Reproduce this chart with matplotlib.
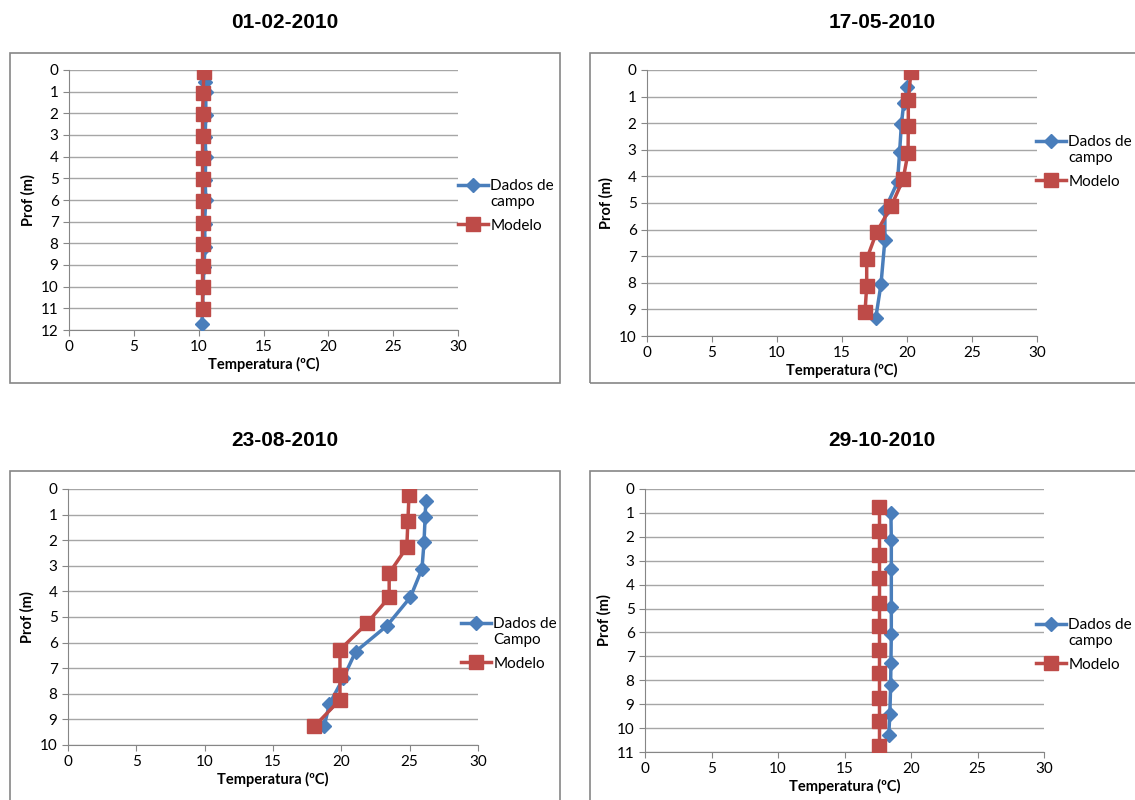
import numpy as np
import matplotlib.pyplot as plt
from matplotlib.patches import Rectangle

plt.rcParams["font.family"] = ["Lato", "DejaVu Sans"]

W, H = 1135, 800

titles = ["01-02-2010", "17-05-2010", "23-08-2010", "29-10-2010"]
campo_labels = ["Dados de\ncampo", "Dados de\ncampo", "Dados de\nCampo", "Dados de\ncampo"]
ymax = [12, 10, 10, 11]

# 01-02-2010
campo1_t = [10.45, 10.55, 10.55, 10.5, 10.55, 10.5, 10.55, 10.45, 10.5, 10.4, 10.35, 10.3, 10.25]
campo1_d = [0.57, 1.03, 2.1, 3.1, 4.0, 5.1, 6.0, 7.1, 8.15, 9.1, 10.05, 11.0, 11.71]
modelo1_t = [10.4, 10.35, 10.3, 10.3, 10.3, 10.3, 10.3, 10.3, 10.3, 10.3, 10.3, 10.3]
modelo1_d = [0.08, 1.06, 2.05, 3.05, 4.04, 5.05, 6.05, 7.04, 8.05, 9.03, 10.03, 11.03]

# 17-05-2010
campo2_t = [20.03, 19.75, 19.57, 19.43, 19.27, 18.3, 18.3, 18.0, 17.6]
campo2_d = [0.65, 1.25, 2.03, 3.09, 4.21, 5.25, 6.38, 8.05, 9.31]
modelo2_t = [20.3, 20.1, 20.1, 20.08, 19.7, 18.8, 17.66, 16.9, 16.9, 16.77]
modelo2_d = [0.09, 1.11, 2.11, 3.11, 4.11, 5.11, 6.1, 7.11, 8.11, 9.11]

# 23-08-2010
campo3_t = [26.18, 26.13, 26.05, 25.9, 25.05, 23.34, 21.05, 20.13, 19.13, 18.74]
campo3_d = [0.48, 1.1, 2.08, 3.12, 4.23, 5.34, 6.35, 7.4, 8.4, 9.27]
modelo3_t = [24.95, 24.87, 24.79, 23.5, 23.5, 21.87, 19.9, 19.9, 19.9, 18.03]
modelo3_d = [0.23, 1.26, 2.28, 3.29, 4.23, 5.25, 6.28, 7.25, 8.23, 9.27]

# 29-10-2010
campo4_t = [18.49, 18.52, 18.52, 18.52, 18.52, 18.49, 18.47, 18.41, 18.33]
campo4_d = [1.0, 2.15, 3.36, 4.93, 6.08, 7.29, 8.19, 9.4, 10.28]
modelo4_t = [17.62] * 11
modelo4_d = [0.76, 1.74, 2.76, 3.74, 4.75, 5.72, 6.74, 7.71, 8.74, 9.72, 10.74]

campo = [(campo1_t, campo1_d), (campo2_t, campo2_d), (campo3_t, campo3_d), (campo4_t, campo4_d)]
modelo = [(modelo1_t, modelo1_d), (modelo2_t, modelo2_d), (modelo3_t, modelo3_d), (modelo4_t, modelo4_d)]

# layout in pixels (left, top, right, bottom)
plot_px = [(69, 70, 458, 330), (647, 70, 1037, 336), (68, 489, 478, 745), (645, 489, 1044, 752)]
box_px = [(10, 53, 560, 383), (590, 53, 1140, 383), (10, 471, 560, 810), (590, 471, 1140, 810)]
title_px = [(285, 22), (882, 22), (285, 441), (882, 441)]
legend_px = [(450, 171), (1028, 127), (453, 609), (1028, 610)]

fig = plt.figure(figsize=(W / 100, H / 100), dpi=100)
fig.patch.set_facecolor("white")

for i in range(4):
    bx0, by0, bx1, by1 = box_px[i]
    fig.patches.append(Rectangle((bx0 / W, 1 - by1 / H), (bx1 - bx0) / W, (by1 - by0) / H,
                                 transform=fig.transFigure, fill=False,
                                 edgecolor="#868686", linewidth=1.2))
    tx, ty = title_px[i]
    fig.text(tx / W, 1 - ty / H, titles[i], ha="center", va="center",
             fontsize=15, fontweight="bold", family="Liberation Sans")

    x0, y0, x1, y1 = plot_px[i]
    ax = fig.add_axes([x0 / W, 1 - y1 / H, (x1 - x0) / W, (y1 - y0) / H])
    ax.plot(campo[i][0], campo[i][1], color="#4A7EBB", linewidth=2.5,
            marker="D", markersize=7.5, label=campo_labels[i], zorder=3)
    ax.plot(modelo[i][0], modelo[i][1], color="#BE4B48", linewidth=2.5,
            marker="s", markersize=10, label="Modelo", zorder=4)

    ax.set_xlim(0, 30)
    ax.set_ylim(ymax[i], 0)
    ax.set_xticks(range(0, 31, 5))
    ax.set_yticks(range(0, ymax[i] + 1))
    ax.grid(True, axis="y", color="#A6A6A6", linewidth=1)
    ax.set_axisbelow(True)
    for s in ["top", "right"]:
        ax.spines[s].set_visible(False)
    for s in ["left", "bottom"]:
        ax.spines[s].set_color("#868686")
    ax.tick_params(colors="#868686", labelcolor="black", labelsize=11, length=4)
    ax.set_xlabel("Temperatura (ºC)", fontsize=10.5, fontweight="bold", labelpad=2)
    ax.set_ylabel("Prof (m)", fontsize=10.5, fontweight="bold", labelpad=4)

    lx, ly = legend_px[i]
    leg = fig.legend(handles=ax.get_lines(), loc="upper left",
                     bbox_to_anchor=(lx / W, 1 - ly / H), frameon=False,
                     fontsize=11, handlelength=2.0, handletextpad=0.15,
                     borderpad=0, labelspacing=0.65)
    # put the two-line entry's handle level with its first line
    first = leg.get_lines()[0]
    first.set_ydata(np.asarray(first.get_ydata()) + 6.5)

plt.savefig("out.png", dpi=100, facecolor=fig.get_facecolor())
